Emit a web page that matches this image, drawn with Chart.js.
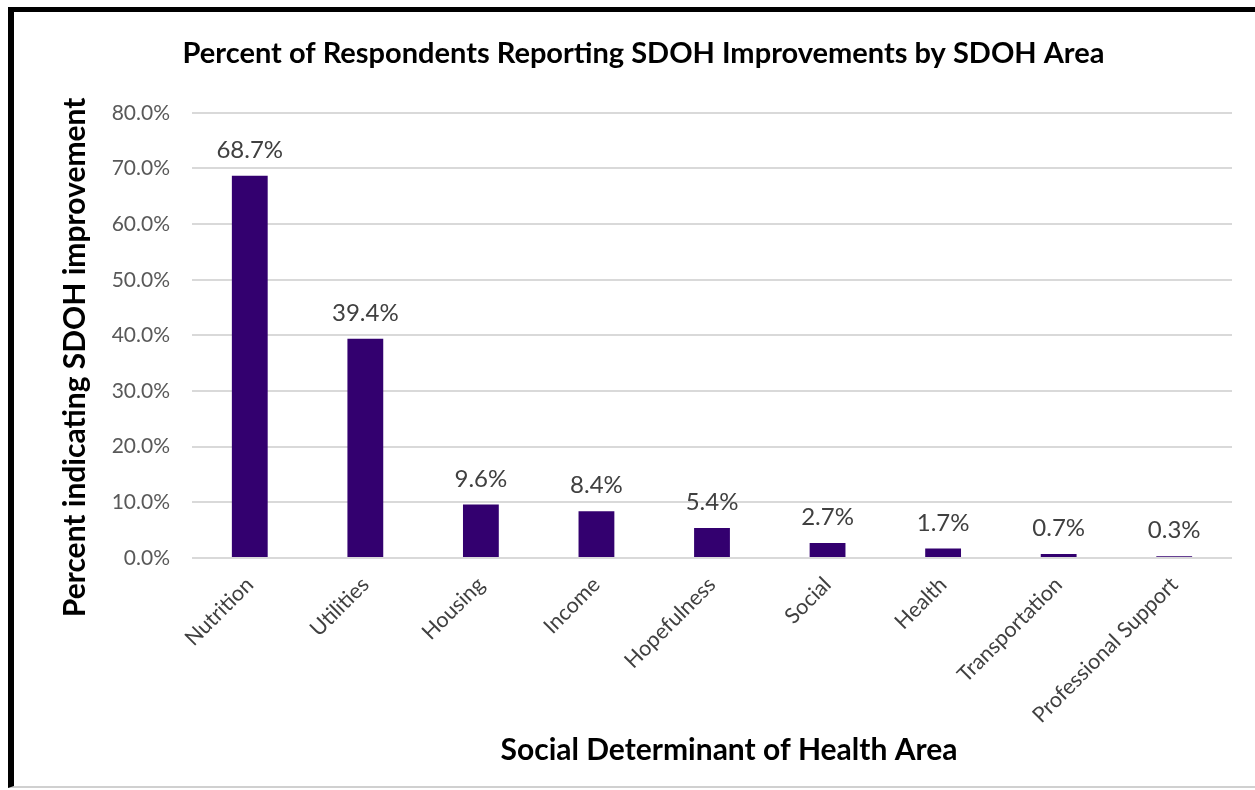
<!DOCTYPE html>
<html>
<head>
<meta charset="utf-8">
<script src="https://cdn.jsdelivr.net/npm/chart.js@4/dist/chart.umd.min.js"></script>
<style>
  html, body { margin: 0; padding: 0; background: #fff; }
  #frame {
    position: absolute; left: 8px; top: 7px; width: 1247px; height: 781px;
    border-top: 5px solid #000; border-left: 6px solid #000; border-bottom: 2px solid #d0d0d0;
    box-sizing: border-box; background: #fff;
  }
  #wrap { position: absolute; left: 0; top: 0; width: 1255px; height: 790px; }
</style>
</head>
<body>
<div id="frame"></div>
<div id="wrap"><canvas id="chart" width="1255" height="790"></canvas></div>
<script>
// Share of respondents reporting an improvement, by SDOH area
const categories = ["Nutrition", "Utilities", "Housing", "Income", "Hopefulness", "Social", "Health", "Transportation", "Professional Support"];
const percents = [68.7, 39.4, 9.6, 8.4, 5.4, 2.7, 1.7, 0.7, 0.3];
const yTicks = [0, 10, 20, 30, 40, 50, 60, 70, 80];
const xAxisTitle = 'Social Determinant of Health Area';
const yAxisTitle = 'Percent indicating SDOH improvement';

const FONT = "Lato, 'Open Sans', sans-serif";

// Writes each bar's value above it
const valueLabels = {
  id: 'valueLabels',
  afterDatasetsDraw(chart) {
    const { ctx } = chart;
    const meta = chart.getDatasetMeta(0);
    ctx.save();
    ctx.font = "24px " + FONT;
    ctx.fillStyle = "#404040";
    ctx.textAlign = "center";
    ctx.textBaseline = "alphabetic";
    meta.data.forEach((bar, i) => {
      ctx.fillText(percents[i].toFixed(1) + "%", bar.x, bar.y - 18);
    });
    ctx.restore();
  }
};

// Axis titles, placed relative to the chart area
const axisTitles = {
  id: 'axisTitles',
  afterDraw(chart) {
    const { ctx, chartArea } = chart;
    ctx.save();
    ctx.font = "bold 30px " + FONT;
    ctx.fillStyle = "#000";
    ctx.textAlign = "center";
    ctx.textBaseline = "middle";
    ctx.fillText(xAxisTitle, (chartArea.left + chartArea.right) / 2 + 17, chartArea.bottom + 192);
    ctx.translate(chartArea.left - 117, (chartArea.top + chartArea.bottom) / 2 + 22);
    ctx.rotate(-Math.PI / 2);
    ctx.fillText(yAxisTitle, 0, 0);
    ctx.restore();
  }
};

new Chart(document.getElementById('chart'), {
  type: 'bar',
  data: {
    labels: categories,
    datasets: [{
      data: percents,
      backgroundColor: '#33006f',
      borderWidth: 0,
      categoryPercentage: 1.0,
      barPercentage: 0.31
    }]
  },
  options: {
    responsive: false,
    animation: false,
    layout: { padding: { left: 55, right: 23, top: 36, bottom: 20 } },
    plugins: {
      legend: { display: false },
      tooltip: { enabled: false },
      title: {
        display: true,
        text: 'Percent of Respondents Reporting SDOH Improvements by SDOH Area',
        color: '#000',
        font: { family: FONT, size: 29, weight: 'bold' },
        padding: { top: 0, bottom: 42 }
      }
    },
    scales: {
      x: {
        afterFit(axis) { axis.height = 212; },
        grid: { display: false },
        border: { display: false },
        ticks: {
          color: '#404040',
          font: { family: FONT, size: 21.5 },
          minRotation: 45, maxRotation: 45,
          padding: 6
        }
      },
      y: {
        min: 0, max: 80,
        afterBuildTicks(axis) { axis.ticks = yTicks.map(v => ({ value: v })); },
        afterFit(axis) { axis.width = 137; },
        grid: { color: '#d9d9d9', lineWidth: 2, drawTicks: false },
        border: { display: false },
        ticks: {
          color: '#595959',
          font: { family: FONT, size: 21 },
          padding: 22,
          callback: v => v.toFixed(1) + '%'
        }
      }
    }
  },
  plugins: [valueLabels, axisTitles]
});
</script>
</body>
</html>
